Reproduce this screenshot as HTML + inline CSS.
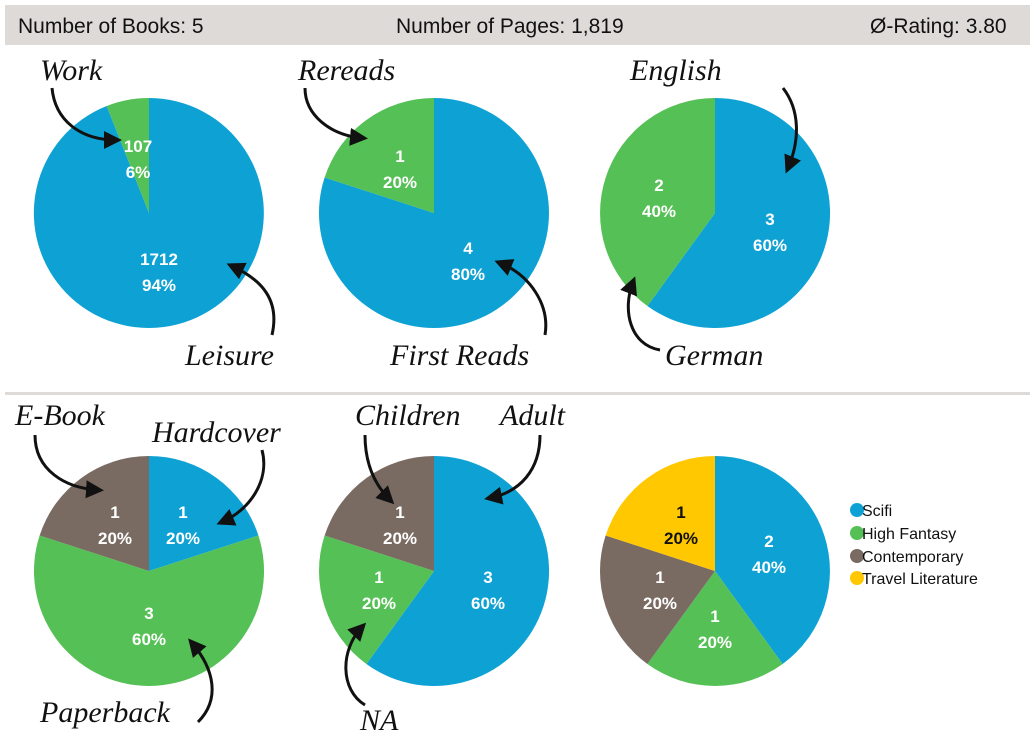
<!DOCTYPE html>
<html><head><meta charset="utf-8"><style>
html,body{margin:0;padding:0;background:#fff;width:1035px;height:750px;overflow:hidden}
svg{display:block}
.h{font-family:"Liberation Sans",sans-serif;font-size:21px;fill:#111}
.v{font-family:"Liberation Sans",sans-serif;font-weight:bold;font-size:17px;fill:#fff;text-anchor:middle}
.c{font-family:"Liberation Serif",serif;font-style:italic;font-size:30px;fill:#111}
.lg{font-family:"Liberation Sans",sans-serif;font-size:16px;fill:#111}
.a{fill:none;stroke:#111;stroke-width:3;marker-end:url(#ah)}
</style></head><body>
<svg width="1035" height="750" viewBox="0 0 1035 750">
<defs><marker id="ah" markerWidth="6" markerHeight="6" refX="4" refY="3" orient="auto"><path d="M0,0 L6,3 L0,6 z" fill="#111"/></marker></defs>
<rect x="5" y="5" width="1025" height="40" fill="#dddad8"/>
<text class="h" x="18" y="33">Number of Books: 5</text>
<text class="h" x="396" y="33">Number of Pages: 1,819</text>
<text class="h" x="870" y="33">Ø-Rating: 3.80</text>
<rect x="5" y="392" width="1025" height="3" fill="#dddad8"/>
<g>
<path d="M149,213 L149,98 A115,115 0 1 1 106.7,106 Z" fill="#0ea2d4"/>
<path d="M149,213 L106.7,106 A115,115 0 0 1 149,98 Z" fill="#55c055"/>
<path d="M434,213 L434,98 A115,115 0 1 1 324.6,177.5 Z" fill="#0ea2d4"/>
<path d="M434,213 L324.6,177.5 A115,115 0 0 1 434,98 Z" fill="#55c055"/>
<path d="M715,213 L715,98 A115,115 0 1 1 647.4,306 Z" fill="#0ea2d4"/>
<path d="M715,213 L647.4,306 A115,115 0 0 1 715,98 Z" fill="#55c055"/>
<path d="M149,571 L149,456 A115,115 0 0 1 258.4,535.5 Z" fill="#0ea2d4"/>
<path d="M149,571 L258.4,535.5 A115,115 0 1 1 39.6,535.5 Z" fill="#55c055"/>
<path d="M149,571 L39.6,535.5 A115,115 0 0 1 149,456 Z" fill="#7a6b62"/>
<path d="M434,571 L434,456 A115,115 0 1 1 366.4,664 Z" fill="#0ea2d4"/>
<path d="M434,571 L366.4,664 A115,115 0 0 1 324.6,535.5 Z" fill="#55c055"/>
<path d="M434,571 L324.6,535.5 A115,115 0 0 1 434,456 Z" fill="#7a6b62"/>
<path d="M715,571 L715,456 A115,115 0 0 1 782.6,664 Z" fill="#0ea2d4"/>
<path d="M715,571 L782.6,664 A115,115 0 0 1 647.4,664 Z" fill="#55c055"/>
<path d="M715,571 L647.4,664 A115,115 0 0 1 605.6,535.5 Z" fill="#7a6b62"/>
<path d="M715,571 L605.6,535.5 A115,115 0 0 1 715,456 Z" fill="#ffc800"/>
</g>
<g class="v">
<text x="138" y="152">107</text><text x="138" y="178">6%</text>
<text x="159" y="265">1712</text><text x="159" y="291">94%</text>
<text x="400" y="162">1</text><text x="400" y="188">20%</text>
<text x="468" y="254">4</text><text x="468" y="280">80%</text>
<text x="659" y="191">2</text><text x="659" y="217">40%</text>
<text x="770" y="225">3</text><text x="770" y="251">60%</text>
<text x="115" y="518">1</text><text x="115" y="544">20%</text>
<text x="183" y="518">1</text><text x="183" y="544">20%</text>
<text x="149" y="619">3</text><text x="149" y="645">60%</text>
<text x="400" y="518">1</text><text x="400" y="544">20%</text>
<text x="379" y="583">1</text><text x="379" y="609">20%</text>
<text x="488" y="583">3</text><text x="488" y="609">60%</text>
<text x="681" y="518" style="fill:#111">1</text><text x="681" y="544" style="fill:#111">20%</text>
<text x="769" y="547">2</text><text x="769" y="573">40%</text>
<text x="660" y="583">1</text><text x="660" y="609">20%</text>
<text x="715" y="622">1</text><text x="715" y="648">20%</text>
</g>
<g class="c">
<text x="40" y="80">Work</text>
<text x="185" y="365">Leisure</text>
<text x="298" y="80">Rereads</text>
<text x="390" y="365">First Reads</text>
<text x="630" y="80">English</text>
<text x="665" y="365">German</text>
<text x="15" y="425">E-Book</text>
<text x="152" y="442">Hardcover</text>
<text x="355" y="425">Children</text>
<text x="500" y="425">Adult</text>
<text x="40" y="722">Paperback</text>
<text x="360" y="730">NA</text>
</g>
<g>
<path class="a" d="M52,88 C55,120 80,140 116,140"/>
<path class="a" d="M272,335 C280,300 262,280 232,266"/>
<path class="a" d="M305,88 C305,115 330,135 362,138"/>
<path class="a" d="M545,335 C550,305 530,275 500,263"/>
<path class="a" d="M783,88 C800,110 800,140 788,168"/>
<path class="a" d="M660,350 C630,345 622,310 633,282"/>
<path class="a" d="M35,435 C35,470 65,488 98,490"/>
<path class="a" d="M262,450 C270,480 250,510 222,522"/>
<path class="a" d="M365,435 C365,470 380,490 390,500"/>
<path class="a" d="M540,435 C540,470 520,492 490,498"/>
<path class="a" d="M198,722 C220,700 215,670 192,643"/>
<path class="a" d="M365,705 C340,690 340,650 362,627"/>
</g>
<circle cx="857" cy="510" r="7" fill="#0ea2d4"/><text class="lg" x="862" y="516">Scifi</text>
<circle cx="857" cy="533" r="7" fill="#55c055"/><text class="lg" x="862" y="539">High Fantasy</text>
<circle cx="857" cy="556" r="7" fill="#7a6b62"/><text class="lg" x="862" y="562">Contemporary</text>
<circle cx="857" cy="578" r="7" fill="#ffc800"/><text class="lg" x="862" y="584">Travel Literature</text>
</svg>
</body></html>
